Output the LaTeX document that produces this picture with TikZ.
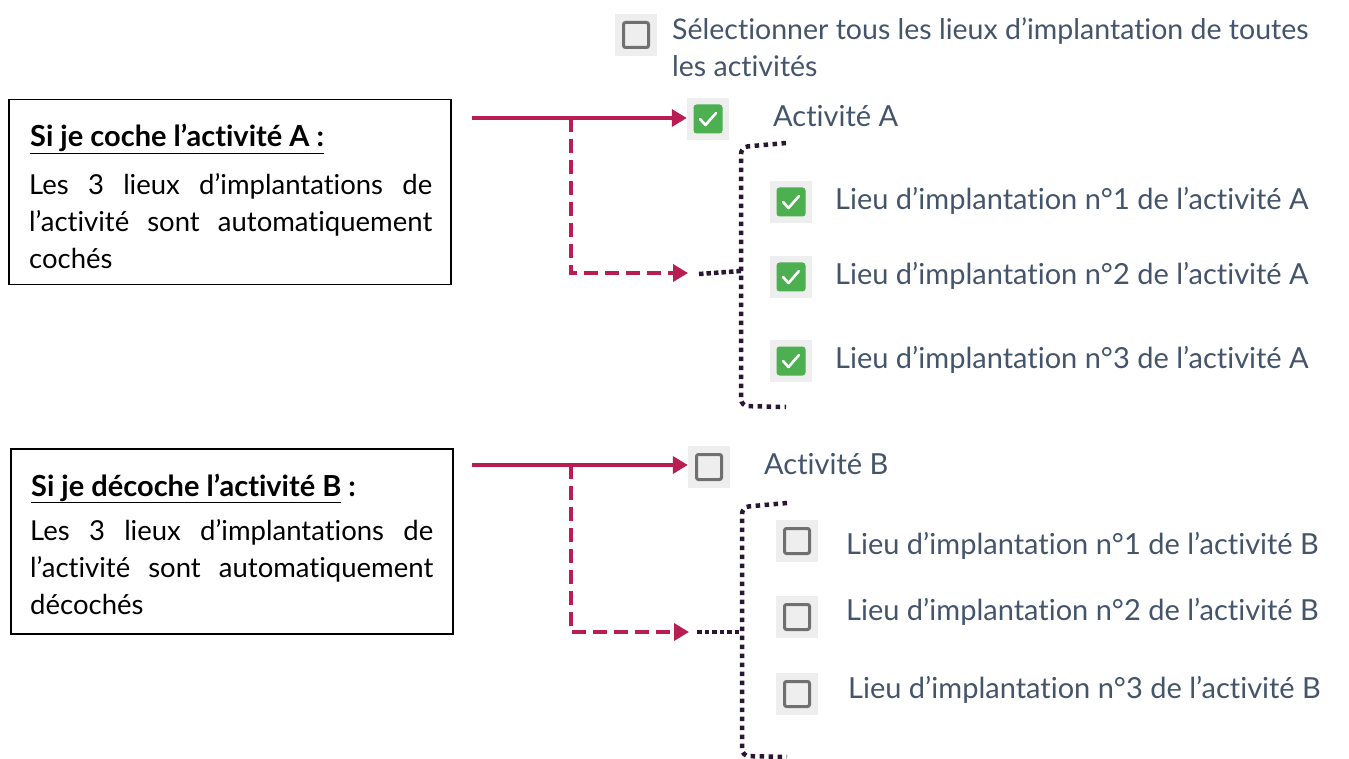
\documentclass[tikz,border=0pt]{standalone}
\usepackage{fontspec}
\setmainfont{Lato}[Ligatures=NoCommon]
\usetikzlibrary{arrows.meta}
\definecolor{crim}{RGB}{184,30,82}
\definecolor{slate}{RGB}{68,84,106}
\definecolor{cgreen}{RGB}{76,175,80}
\definecolor{cdot}{RGB}{40,22,50}
\definecolor{cbg}{RGB}{238,238,238}
\definecolor{cborder}{RGB}{112,112,112}
\newcommand\ckmark[1]{\draw[white, line width=2.6pt, line cap=round, line join=round] ([shift={(-8,0)}]#1.center) -- ++(5.5,6) -- ++(10.5,-12);}
\newcommand\jline[1]{\leavevmode\hbox to 403pt{\spaceskip=0.25em plus 1fil\relax #1}\par}
\begin{document}
\begin{tikzpicture}[x=1pt,y=-1pt,
  cbbg/.style={fill=cbg, minimum size=42pt, inner sep=0},
  cbon/.style={fill=cgreen, rounded corners=3pt, minimum size=29pt, inner sep=0},
  cboff/.style={draw=cborder, line width=3pt, fill=cbg, rounded corners=2pt, minimum size=25pt, inner sep=0},
  lbl/.style={text=slate, anchor=west, font=\fontsize{29}{34}\selectfont, inner sep=0},
  arr/.style={crim, line width=3.5pt, -{Triangle[length=15pt,width=17pt]}},
  darr/.style={arr, dash pattern=on 14pt off 7pt},
  dotl/.style={cdot, line width=4.5pt, dash pattern=on 4.5pt off 4.5pt, rounded corners=7pt},
  info/.style={draw, line width=1.5pt, minimum width=442pt, minimum height=185pt, inner sep=0, anchor=north west},
  body/.style={anchor=north west, text width=403pt, align=left, font=\fontsize{27.5}{37}\selectfont, inner sep=0},
  title/.style={anchor=base west, font=\fontsize{29}{30}\selectfont\bfseries, inner sep=0}
]
\useasboundingbox (0,0) rectangle (1349,759);

% top "select all"
\node[cbbg] (allbg) at (636,35) {};
\node[cboff] (all) at (636,35) {};
\node[lbl, anchor=north west, align=left, font=\fontsize{28.5}{37}\selectfont] (alltxt) at (672,18)
  {Sélectionner tous les lieux d’implantation de toutes\\les activités};

% ---------- Activity A ----------
\node[info] (boxA) at (8,99) {};
\node[title] (titA) at (30,147) {\underline{Si je coche l’activité A :}};
\node[body] (txtA) at (29,173) {\jline{Les 3 lieux d’implantations de}\jline{l’activité sont automatiquement}cochés};

\node[cbbg] (cbAbg) at (708,119) {};
\node[cbon] (cbA) at (708,119) {};
\ckmark{cbA}
\node[lbl] (actA) at (773,116) {Activité A};

\foreach \i/\y in {1/202,2/277,3/361}{
  \node[cbbg] (lAbg\i) at (791,\y) {};
  \node[cbon] (lA\i) at (791,\y) {};
  \ckmark{lA\i}
  \node[lbl] (tA\i) at (835,\y-1) {Lieu d’implantation n°\i{} de l’activité A};
}

\coordinate (srcA) at (472,118);
\coordinate (jA) at (571,118);
\coordinate (tipA) at (688,273);
\draw[arr] (srcA) -- (cbAbg.west |- srcA);
\draw[darr] (jA) -- (jA |- tipA) -- (tipA);

\coordinate (brAt) at (786,143);
\coordinate (brAb) at (786,407);
\coordinate (brAm) at (741,271);
\coordinate (stA) at (699,274);
\draw[dotl] (brAt) -- (741,147) -- (741,406) -- (brAb);
\draw[cdot, line width=4.5pt, dash pattern=on 4.5pt off 3pt] (stA) -- (brAm);

% ---------- Activity B ----------
\node[info] (boxB) at (10,448) {};
\node[title] (titB) at (31,496) {\underline{Si je décoche l’activité B} :};
\node[body] (txtB) at (30,519) {\jline{Les 3 lieux d’implantations de}\jline{l’activité sont automatiquement}décochés};

\node[cbbg] (cbBbg) at (709,467) {};
\node[cboff] (cbB) at (709,467) {};
\node[lbl] (actB) at (764,464) {Activité B};

\foreach \i/\y/\xx/\tx/\ty in {1/541/797/846/546,2/617/797/846/612,3/694/797/848/690}{
  \node[cbbg] (lBbg\i) at (\xx,\y) {};
  \node[cboff] (lB\i) at (\xx,\y) {};
  \node[lbl] (tB\i) at (\tx,\ty) {Lieu d’implantation n°\i{} de l’activité B};
}

\coordinate (srcB) at (472,465);
\coordinate (jB) at (571,465);
\coordinate (tipB) at (689,632);
\draw[arr] (srcB) -- (cbBbg.west |- srcB);
\draw[darr] (jB) -- (jB |- tipB) -- (tipB);

\coordinate (brBt) at (787,503);
\coordinate (brBb) at (787,757);
\coordinate (brBm) at (742,632);
\coordinate (stB) at (697,632);
\draw[dotl] (brBt) -- (742,507) -- (742,756) -- (brBb);
\draw[cdot, line width=4.5pt, dash pattern=on 4.5pt off 3pt] (stB) -- (brBm);
\end{tikzpicture}
\end{document}
